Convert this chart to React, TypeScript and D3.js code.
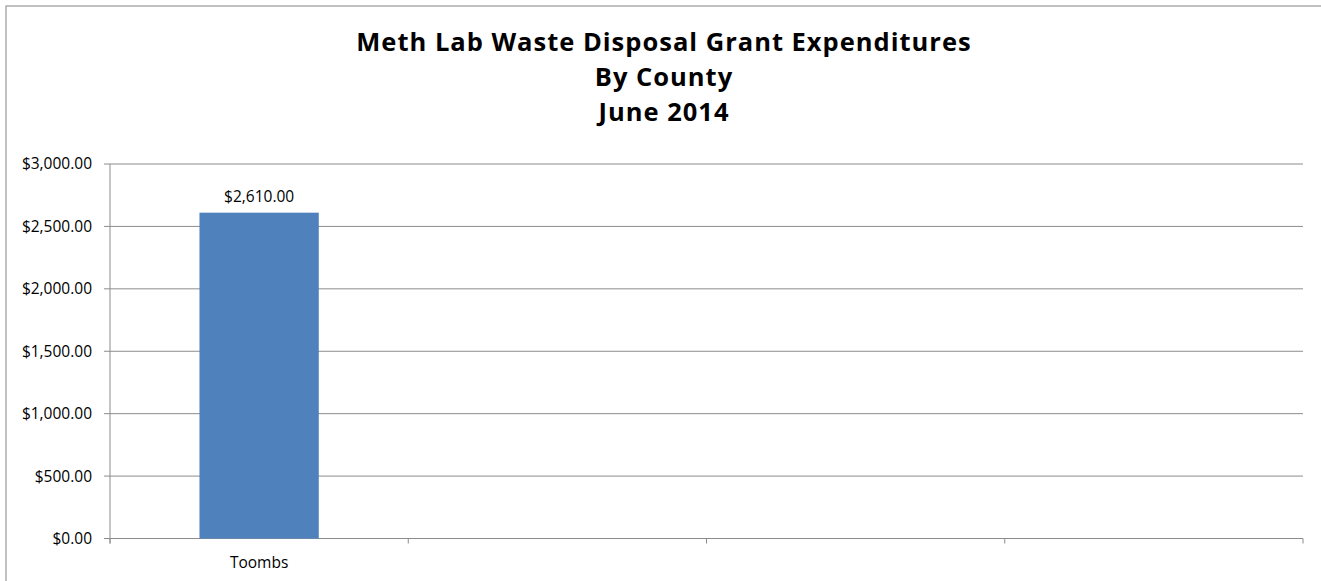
import React from "react";
import * as d3 from "d3";

const title = ["Meth Lab Waste Disposal Grant Expenditures", "By County", "June 2014"];
const categories = ["Toombs", "", "", ""];
const values: (number | null)[] = [2610, null, null, null];
const yTicks = [0, 500, 1000, 1500, 2000, 2500, 3000];

const W = 1321;
const H = 581;
const M = { left: 110, right: 1303, top: 164, bottom: 538.5 };
const FONT = "'Open Sans', Lato, sans-serif";

export default function App() {
  const ids = categories.map((_, i) => String(i));
  const x = d3.scaleBand().domain(ids).range([M.left, M.right]).padding(0);
  const y = d3.scaleLinear().domain([0, 3000]).range([M.bottom, M.top]);
  const fmt = (v: number) => "$" + d3.format(",.2f")(v);
  const barW = x.bandwidth() * 0.4;
  const boundaries = [...ids.map((id) => x(id) as number), M.right];

  return (
    <div style={{ position: "absolute", left: 0, top: 0 }}>
      <svg width={W} height={H} style={{ display: "block", background: "#fff" }}>
        <rect x={6} y={6} width={W + 20} height={H + 20} fill="#fff" stroke="#a0a0a0" strokeWidth={1.3} />
        {title.map((t, i) => (
          <text key={i} x={664} y={51 + i * 35} textAnchor="middle" fontFamily={FONT} fontWeight={700} fontSize={25.5} letterSpacing={1} fill="#000">
            {t}
          </text>
        ))}
        {yTicks.map((t) => (
          <g key={t}>
            <line x1={M.left} x2={M.right} y1={y(t)} y2={y(t)} stroke="#8c8c8c" strokeWidth={1} />
            <line x1={M.left - 6} x2={M.left} y1={y(t)} y2={y(t)} stroke="#8c8c8c" strokeWidth={1} />
            <text x={92} y={y(t)} dy="0.35em" textAnchor="end" fontFamily={FONT} fontSize={15.5} fill="#000">
              {fmt(t)}
            </text>
          </g>
        ))}
        <line x1={M.left} x2={M.left} y1={M.top} y2={M.bottom + 5} stroke="#8c8c8c" strokeWidth={1} />
        {boundaries.map((b, i) => (
          <line key={i} x1={b} x2={b} y1={M.bottom} y2={M.bottom + 5} stroke="#8c8c8c" strokeWidth={1} />
        ))}
        {values.map((v, i) =>
          v == null ? null : (
            <g key={i}>
              <rect
                x={(x(ids[i]) as number) + (x.bandwidth() - barW) / 2}
                y={y(v)}
                width={barW}
                height={y(0) - y(v)}
                fill="#4f81bd"
              />
              <text x={(x(ids[i]) as number) + x.bandwidth() / 2} y={y(v) - 11} textAnchor="middle" fontFamily={FONT} fontSize={15.5} fill="#000">
                {fmt(v)}
              </text>
            </g>
          )
        )}
        {categories.map((c, i) => (
          <text key={i} x={(x(ids[i]) as number) + x.bandwidth() / 2} y={568} textAnchor="middle" fontFamily={FONT} fontSize={15.5} fill="#000">
            {c}
          </text>
        ))}
      </svg>
    </div>
  );
}
